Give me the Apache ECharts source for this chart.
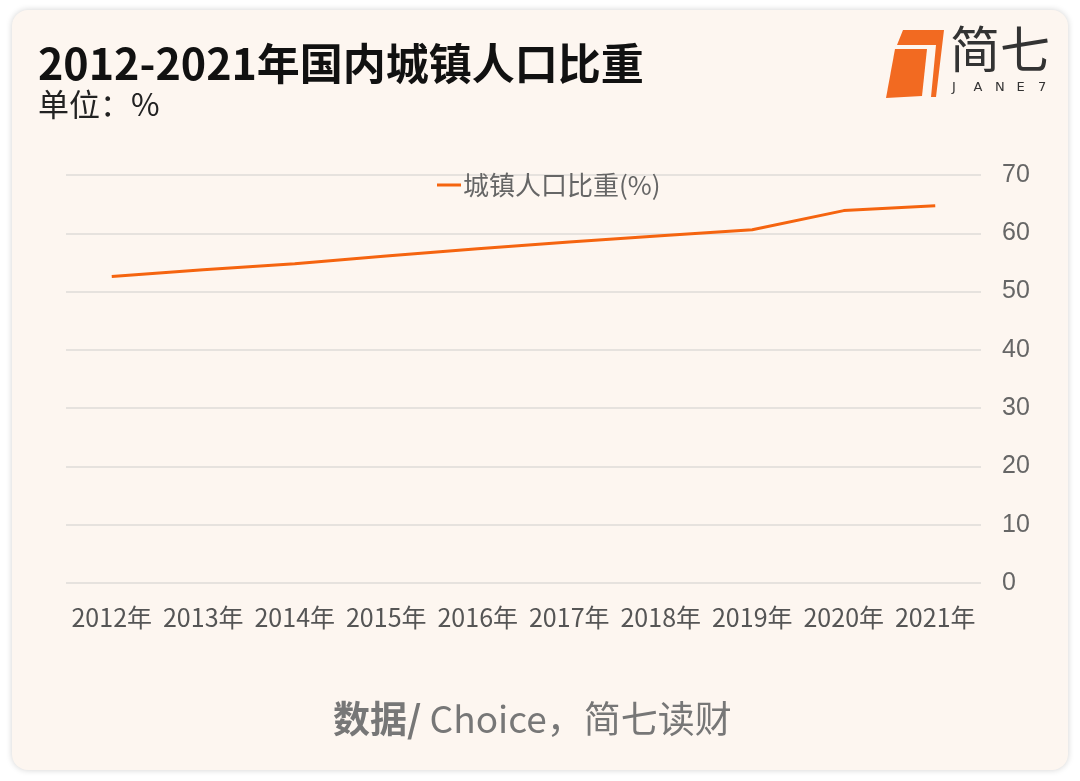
<!DOCTYPE html>
<html>
<head>
<meta charset="utf-8">
<script src="https://cdn.jsdelivr.net/npm/echarts@6/dist/echarts.min.js"></script>
<style>
  html, body { margin: 0; padding: 0; background: #ffffff; }
  #card {
    position: absolute; left: 12px; top: 10px; width: 1056px; height: 760px;
    background: #fdf6f0; border-radius: 16px;
    box-shadow: 0 0 6px rgba(0,0,0,0.18);
  }
  #chart { position: absolute; left: 0; top: 0; width: 1080px; height: 781px; }
</style>
</head>
<body>
<div id="card"></div>
<div id="chart"></div>
<script>
// chart data
const years = ['2012年', '2013年', '2014年', '2015年', '2016年', '2017年', '2018年', '2019年', '2020年', '2021年'];
const urbanShare = [52.57, 53.73, 54.77, 56.10, 57.35, 58.52, 59.58, 60.60, 63.89, 64.72];
const seriesName = '城镇人口比重(%)';
const titleText = '2012-2021年国内城镇人口比重';
const unitText = '单位：%';
const logoLetters = ['J', 'A', 'N', 'E', '7'];

const orange = '#f5640f';
const font = '"Noto Sans CJK SC", "Noto Sans", sans-serif';

const logoLetterText = logoLetters.map((ch, i) => ({
  type: 'text', left: 952 + i * 21.5, top: 81,
  style: { text: ch, fill: '#333', font: '13px "DejaVu Sans", sans-serif' }
}));

const chart = echarts.init(document.getElementById('chart'));
chart.setOption({
  backgroundColor: 'transparent',
  textStyle: { fontFamily: font },
  grid: { left: 66, right: 99, top: 175, bottom: 198 },
  legend: {
    top: 167, left: 432,
    itemWidth: 24, itemHeight: 3, itemGap: 6,
    icon: 'rect',
    textStyle: { color: '#666', fontSize: 26, fontFamily: font, padding: [0, 0, 0, -3] },
    data: [seriesName]
  },
  xAxis: {
    type: 'category',
    data: years,
    axisLine: { show: false },
    axisTick: { show: false },
    axisLabel: { color: '#555', fontSize: 25, margin: 22, interval: 0, fontFamily: font }
  },
  yAxis: {
    type: 'value',
    position: 'right',
    min: 0, max: 70, interval: 10,
    axisLine: { show: false },
    axisTick: { show: false },
    axisLabel: { color: '#666', fontSize: 25, margin: 21, fontFamily: '"Liberation Sans", Arial, sans-serif' },
    splitLine: { lineStyle: { color: '#dedbd8', width: 1.5 } }
  },
  series: [{
    name: seriesName,
    type: 'line',
    data: urbanShare,
    symbol: 'none',
    lineStyle: { color: orange, width: 3 },
    itemStyle: { color: orange }
  }],
  graphic: [
    {
      type: 'text', left: 38, top: 42,
      style: { text: titleText, fill: '#111', font: 'bold 43px ' + font }
    },
    {
      type: 'text', left: 38, top: 89,
      style: { text: unitText, fill: '#222', font: '31px ' + font }
    },
    // logo mark
    {
      type: 'polygon',
      shape: { points: [[903, 30], [944, 30], [936, 97], [931, 97], [936, 45], [897, 45]] },
      style: { fill: '#f26a21' }
    },
    {
      type: 'polygon',
      shape: { points: [[895, 49], [927, 49], [922, 96], [886, 98]] },
      style: { fill: '#f26a21' }
    },
    {
      type: 'text', left: 950, top: 24,
      style: { text: '简七', fill: '#333', font: '50px ' + font }
    }
  ].concat(logoLetterText, [
    // footer source line
    {
      type: 'text', left: 333, top: 700,
      style: {
        text: '{b|数据/}{r| Choice，简七读财}',
        rich: {
          b: { fill: '#777', font: 'bold 37px ' + font },
          r: { fill: '#777', font: '37px ' + font }
        }
      }
    }
  ])
});
</script>
</body>
</html>
